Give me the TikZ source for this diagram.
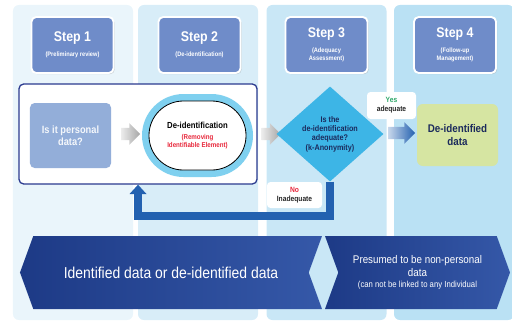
\documentclass[tikz,border=0pt]{standalone}
\usepackage{fontspec}
\setmainfont{Liberation Sans}[FakeStretch=0.88]
\usetikzlibrary{arrows.meta,shapes,positioning,shadows}

\definecolor{colA}{HTML}{EAF5FB}
\definecolor{colB}{HTML}{D8EDF8}
\definecolor{colC}{HTML}{C9E7F6}
\definecolor{colD}{HTML}{BAE1F4}
\definecolor{stepblue}{HTML}{6F8CC9}
\definecolor{framenavy}{HTML}{2B3A8F}
\definecolor{askblue}{HTML}{93AED9}
\definecolor{ringblue}{HTML}{7FD0EF}
\definecolor{cyandia}{HTML}{3DB5E6}
\definecolor{diatext}{HTML}{1B2A5C}
\definecolor{okgreen}{HTML}{2FA86A}
\definecolor{nored}{HTML}{E8283C}
\definecolor{limebox}{HTML}{D6E5A2}
\definecolor{loopblue}{HTML}{2361B0}
\definecolor{bannerdark}{HTML}{1D3A86}
\definecolor{bannerlight}{HTML}{3558A8}

% small print, set again on every line of a node
\newcommand\stepnote{\fontsize{5.5}{6.5}\selectfont}
\newcommand\rednote{\color{nored}\fontsize{6}{7}\selectfont}

\tikzset{
  basic/.style    = {align=center, inner sep=2pt, rectangle},
  column/.style   = {basic, rounded corners=5pt, minimum height=9.45cm,
                     minimum width=3.6cm},
  stephead/.style = {basic, rounded corners=4pt, fill=stepblue, draw=white,
                     line width=1.6pt, text=white,
                     drop shadow={opacity=0.3, shadow xshift=1pt, shadow yshift=-1pt},
                     minimum width=2.46cm, minimum height=1.68cm,
                     font=\bfseries\fontsize{12}{12}\selectfont},
  frame/.style    = {basic, rounded corners=4pt, draw=framenavy, line width=1.1pt,
                     fill=white, minimum width=7.14cm, minimum height=3cm},
  question/.style = {basic, rounded corners=4pt, fill=askblue, text=white!90!askblue,
                     minimum width=2.43cm, minimum height=1.95cm,
                     font=\bfseries\fontsize{9}{10.5}\selectfont},
  ring/.style     = {basic, rounded corners=1.25cm, fill=ringblue,
                     minimum width=3.33cm, minimum height=2.49cm},
  process/.style  = {basic, rounded corners=1.03cm, fill=white, draw=black,
                     line width=0.7pt, minimum width=2.91cm, minimum height=2.07cm,
                     font=\bfseries\fontsize{7.5}{8.5}\selectfont},
  decision/.style = {diamond, align=center, inner sep=0pt, fill=cyandia, text=diatext,
                     minimum width=3.21cm, minimum height=2.85cm,
                     font=\bfseries\fontsize{7}{8}\selectfont},
  result/.style   = {basic, rounded corners=5pt, fill=limebox, text=diatext,
                     minimum width=2.43cm, minimum height=1.86cm,
                     font=\bfseries\fontsize{9.5}{11}\selectfont},
  answer/.style   = {basic, rounded corners=3pt, fill=white, text=black!85,
                     font=\bfseries\fontsize{6.5}{7.5}\selectfont},
  flow/.style     = {single arrow, inner xsep=0pt, inner ysep=5pt,
                     single arrow head extend=4pt, minimum height=#1},
  grayflow/.style = {flow=0.57cm, left color=gray!15, right color=gray!70},
  blueflow/.style = {flow=0.81cm, left color=loopblue!25, right color=loopblue},
  feedback/.style = {draw=loopblue, line width=7pt,
                     -{Triangle[length=8pt, width=14pt]}},
  banner/.style   = {signal, signal pointer angle=140, inner sep=0pt, align=center,
                     minimum height=2.19cm, left color=bannerdark,
                     right color=bannerlight, text=white}
}

\begin{document}
\begin{tikzpicture}[x=0.03cm, y=-0.03cm]
\useasboundingbox (0,0) rectangle (512,322);

% one shaded column behind each step
\foreach \i/\x/\c in {1/73/colA, 2/198/colB, 3/326.5/colC, 4/454/colD}
  \node[column, fill=\c] (col\i) at (\x,162.5) {};

% step headers
\node[stephead] (s1) at (72.5,45) {Step 1\\[1pt]\stepnote (Preliminary review)};
\node[stephead] (s2) at (199.5,45) {Step 2\\[1pt]\stepnote (De-identification)};
\node[stephead] (s3) at (326.5,45) {Step 3\\[1pt]\stepnote (Adequacy\\[-5pt]\stepnote Assessment)};
\node[stephead] (s4) at (455,45) {Step 4\\[1pt]\stepnote (Follow-up\\[-5pt]\stepnote Management)};

% steps 1 and 2 inside one frame
\node[frame] (frame) at (138,134) {};
\node[question] (ask) at (70.5,135.5) {Is it personal\\data?};
\node[grayflow] (a1) at (127.5,134) {};
\node[ring] (deidring) at (197.5,135.5) {};
\node[process] (deid) at (197.5,135.5)
  {De-identification\\[1pt]\rednote (Removing\\[-1.5pt]\rednote Identifiable Element)};
\node[grayflow] (a2) at (268,134) {};

% adequacy check
\node[decision] (dia) at (330,134) {Is the\\de-identification\\adequate?\\(k-Anonymity)};
\node[answer, minimum width=1.47cm, minimum height=0.81cm] (yes) at (391.5,105.5)
  {\textcolor{okgreen}{Yes}\\adequate};
\node[blueflow] (a3) at (398.5,133) {};
\node[result] (res) at (457.5,135) {De-identified\\data};

% inadequate: back to de-identification
\coordinate (turn) at (330,216);
\draw[feedback] (dia.south) -- (turn) -| (frame.south);
\node[answer, minimum width=1.65cm, minimum height=0.78cm] (no) at (294.5,195)
  {\textcolor{nored}{No}\\Inadequate};

% data status banners
\node[banner, signal to=west, signal from=east, minimum width=9.06cm] (idband) at (171,272.5)
  {\fontsize{13.5}{15}\selectfont Identified data or de-identified data};
\node[banner, signal to=east, signal from=west, minimum width=5.55cm] (npband) at (417.5,272.5)
  {\fontsize{9.5}{11}\selectfont Presumed to be non-personal\\[-1pt]
   \fontsize{9.5}{11}\selectfont data\\[-2pt]
   \fontsize{7.5}{8.5}\selectfont (can not be linked to any Individual};

\end{tikzpicture}
\end{document}
